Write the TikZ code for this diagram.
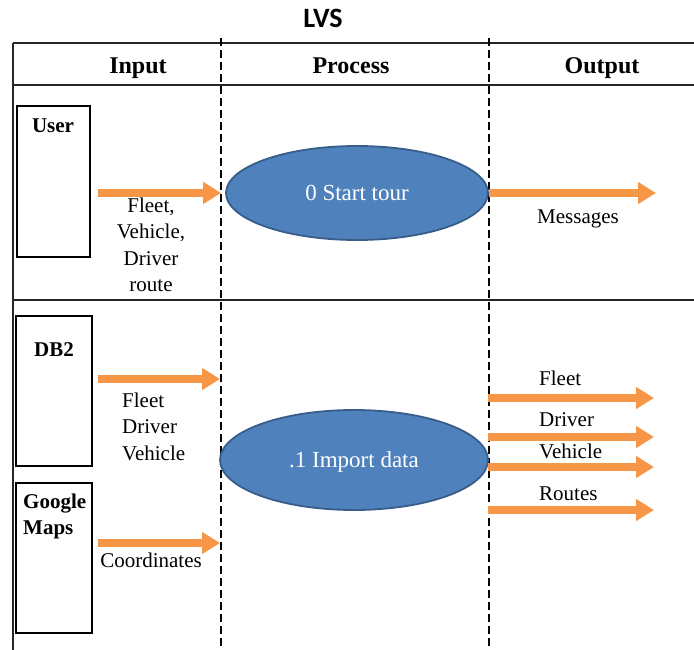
\documentclass[tikz,border=0pt]{standalone}
\usepackage{fontspec}
\setmainfont{Liberation Serif}
\newfontfamily\titlefont{Carlito}
\usetikzlibrary{arrows.meta,shapes.geometric}
\definecolor{flowcol}{HTML}{F79646}
\definecolor{procfill}{HTML}{4F81BD}
\definecolor{procedge}{HTML}{385D8A}
\tikzset{
  rule/.style={line width=1.1pt, black!85},
  lanediv/.style={line width=1.3pt, black, dash pattern=on 8pt off 4pt},
  flowarrow/.style={line width=7.5pt, draw=flowcol, -{Triangle[length=18pt,width=21pt]}},
  srcbox/.style={draw, rectangle, line width=1.2pt, inner sep=0pt},
  proc/.style={ellipse, draw=procedge, fill=procfill, line width=1.8pt, inner sep=0pt,
    text=white, text height=15.5pt, text depth=0pt, font=\fontsize{23}{23}\selectfont},
  hdr/.style={font=\bfseries\fontsize{24}{24}\selectfont, anchor=base, inner sep=0pt},
  boxlbl/.style={font=\bfseries\fontsize{21}{26}\selectfont, inner sep=0pt},
  lbl/.style={font=\fontsize{21}{26.5}\selectfont, inner sep=0pt},
}
\begin{document}
\begin{tikzpicture}[x=1pt,y=-1pt]
\useasboundingbox (0,0) rectangle (694,650);

% title
\node[font=\titlefont\bfseries\fontsize{28}{28}\selectfont, anchor=base, inner sep=0pt] (title) at (323,28) {LVS};

% table rules
\draw[rule] (13,43) -- (694,43);
\draw[rule] (13,85) -- (694,85);
\draw[rule] (13,300) -- (694,300);
\draw[rule] (13,43) -- (13,650);

% lane dividers
\draw[lanediv] (221,38) -- (221,650);
\draw[lanediv] (489,38) -- (489,650);

% headers
\node[hdr] (hin) at (138,74) {Input};
\node[hdr] (hproc) at (351,74) {Process};
\node[hdr] (hout) at (602,74) {Output};

% sources
\node[srcbox, minimum width=73pt, minimum height=151pt] (user) at (53.5,181.5) {};
\node[boxlbl] (userlbl) at (53,126) {User};
\node[srcbox, minimum width=76pt, minimum height=150pt] (db2) at (54,391) {};
\node[boxlbl] (db2lbl) at (54,350) {DB2};
\node[srcbox, minimum width=76pt, minimum height=150pt] (gmaps) at (54,558) {};
\node[boxlbl, align=left, anchor=north west] (gmapslbl) at (23,494) {Google\\Maps};

% processes
\node[proc, minimum width=262pt, minimum height=94pt] (p0) at (357,193) {0 Start tour};
\node[proc, minimum width=268pt, minimum height=100pt] (p1) at (354,460) {.1 Import data};

% arrow end points
\coordinate (uin) at (98,193);
\coordinate (dbin) at (98,379);
\coordinate (dbend) at (220,379);
\coordinate (gin) at (98,543);
\coordinate (gend) at (220,543);
\coordinate (msgend) at (656,193);
\coordinate (o1s) at (488,398);  \coordinate (o1e) at (654,398);
\coordinate (o2s) at (488,437);  \coordinate (o2e) at (654,437);
\coordinate (o3s) at (488,467);  \coordinate (o3e) at (654,467);
\coordinate (o4s) at (488,510);  \coordinate (o4e) at (654,510);

% flows
\draw[flowarrow] (uin) -- ([xshift=-4pt]p0.west);
\draw[flowarrow] (p0.east) -- (msgend);
\draw[flowarrow] (dbin) -- (dbend);
\draw[flowarrow] (gin) -- (gend);
\draw[flowarrow] (o1s) -- (o1e);
\draw[flowarrow] (o2s) -- (o2e);
\draw[flowarrow] (o3s) -- (o3e);
\draw[flowarrow] (o4s) -- (o4e);

% flow labels
\node[lbl, align=center, anchor=north] (ulbl) at (151,197.5) {Fleet,\\Vehicle,\\Driver\\route};
\node[lbl, anchor=base] (msglbl) at (578,224) {Messages};
\node[lbl, align=left, anchor=north west] (dblbl) at (122,392.5) {Fleet\\Driver\\Vehicle};
\node[lbl, anchor=base] (glbl) at (151,567) {Coordinates};
\node[lbl, anchor=base west] (o1lbl) at (539,385) {Fleet};
\node[lbl, anchor=base west] (o2lbl) at (539,426) {Driver};
\node[lbl, anchor=base west] (o3lbl) at (539,458) {Vehicle};
\node[lbl, anchor=base west] (o4lbl) at (539,500) {Routes};
\end{tikzpicture}
\end{document}
